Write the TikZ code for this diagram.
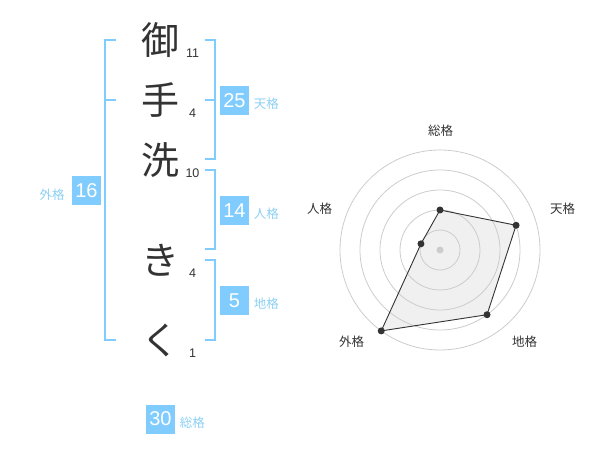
\documentclass[tikz,border=0pt]{standalone}
\usepackage{fontspec}
\setmainfont{Liberation Sans}
\newfontfamily\jpfont{Noto Sans CJK JP}
\usetikzlibrary{positioning}

\definecolor{kakublue}{HTML}{80CCFF}
\definecolor{kakutext}{HTML}{8CD0F4}
\definecolor{inkgray}{HTML}{333333}
\definecolor{ringgray}{HTML}{CCCCCC}
\definecolor{areagray}{HTML}{F0F0F0}

\tikzset{
    kanji/.style={font=\jpfont\fontsize{38}{38}\selectfont, text=inkgray, inner sep=0pt},
    strokes/.style={font=\fontsize{12.5}{12.5}\selectfont, text=inkgray, inner sep=0pt},
    kakubox/.style={fill=kakublue, text=white, minimum size=29pt, inner sep=0pt, font=\fontsize{20}{20}\selectfont},
    kakuname/.style={font=\jpfont\fontsize{12.5}{12.5}\selectfont, text=kakutext, inner sep=0pt},
    kakuline/.style={draw=kakublue, line width=2pt},
    radarname/.style={font=\jpfont\fontsize{12.5}{12.5}\selectfont, text=inkgray, inner sep=0pt},
    ring/.style={draw=ringgray, line width=0.8pt},
}

\begin{document}
\begin{tikzpicture}[x=1pt, y=-1pt]
        \useasboundingbox (0,0) rectangle (600,470);

        \foreach \c/\y/\n [count=\i] in {御/40/11, 手/100/4, 洗/160/10, き/260/4, く/340/1} {
            \node[kanji] (ch\i) at (160,\y) {\c};
            \node[strokes] (st\i) at (192.5,\y+13) {\n};
        }

        \draw[kakuline] (115.5,40) -- (104.5,40) -- (104.5,340) -- (115.5,340);
        \draw[kakuline] (104.5,100) -- (115.5,100);

        \foreach \a/\b in {40/159, 170/249, 260/340} {
            \draw[kakuline] (204.5,\a) -- (214.5,\a) -- (214.5,\b) -- (204.5,\b);
        }
        \draw[kakuline] (204.5,100) -- (214.5,100);

        \node[kakubox] (ten) at (234.5,100.5) {25};
        \node[kakuname, right=4.5pt of ten, yshift=-3.5pt] (tenname) {天格};
        \node[kakubox] (jin) at (234.5,210.5) {14};
        \node[kakuname, right=4.5pt of jin, yshift=-3.5pt] (jinname) {人格};
        \node[kakubox] (chi) at (234.5,300.5) {5};
        \node[kakuname, right=4.5pt of chi, yshift=-3.5pt] (chiname) {地格};
        \node[kakubox] (gai) at (86.5,191) {16};
        \node[kakuname, left=7pt of gai, yshift=-3.5pt] (gainame) {外格};
        \node[kakubox] (sou) at (160.5,419) {30};
        \node[kakuname, right=4.5pt of sou, yshift=-3.5pt] (souname) {総格};

        \begin{scope}[shift={(440,250)}]
            \coordinate (rc) at (0,0);
            \coordinate (psou) at (-90:40);
            \coordinate (pten) at (-18:80);
            \coordinate (pchi) at (54:80);
            \coordinate (pgai) at (126:100);
            \coordinate (pjin) at (198:20);

            \fill[areagray] (psou) -- (pten) -- (pchi) -- (pgai) -- (pjin) -- cycle;
            \foreach \r in {20,40,...,100} {
                \draw[ring] (rc) circle (\r pt);
            }
            \draw[inkgray, line width=0.9pt] (psou) -- (pten) -- (pchi) -- (pgai) -- (pjin) -- cycle;
            \fill[ringgray] (rc) circle (3.5pt);
            \foreach \p in {psou,pten,pchi,pgai,pjin} {
                \fill[inkgray] (\p) circle (3.5pt);
            }
        \end{scope}

        \node[radarname] (rsou) at (440.5,130.5) {総格};
        \node[radarname] (rten) at (562.5,208.5) {天格};
        \node[radarname] (rchi) at (524.5,341.5) {地格};
        \node[radarname] (rgai) at (351.5,341.5) {外格};
        \node[radarname] (rjin) at (319.5,208.5) {人格};
\end{tikzpicture}
\end{document}
